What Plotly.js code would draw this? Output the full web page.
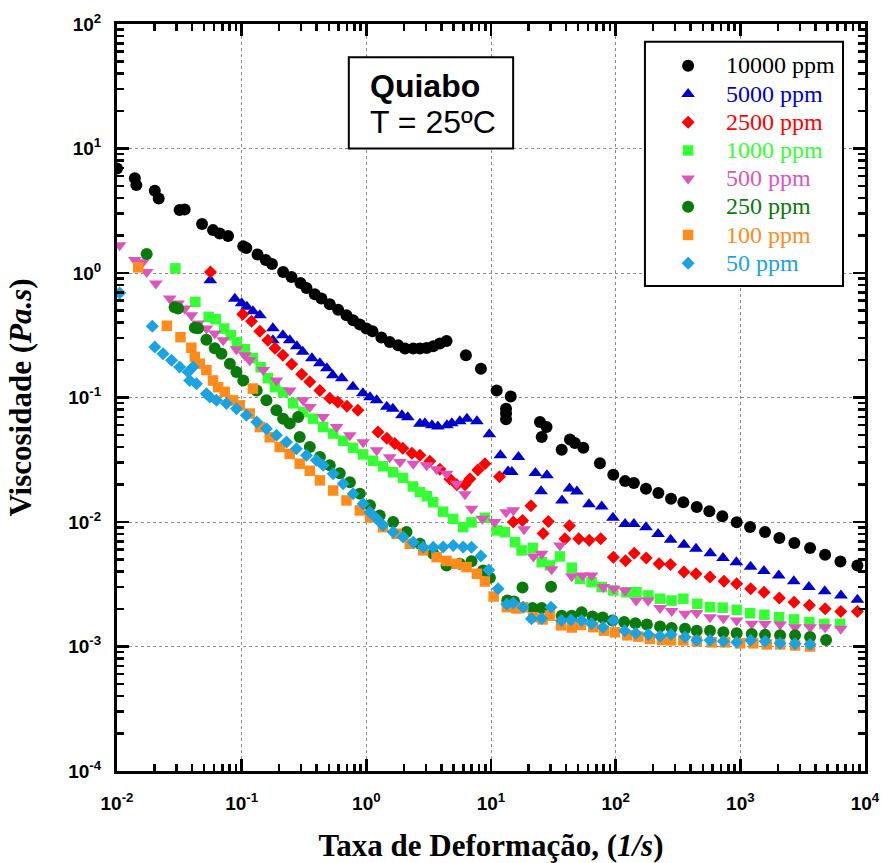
<!DOCTYPE html>
<html>
<head>
<meta charset="utf-8">
<script src="https://cdn.plot.ly/plotly-3.0.1.min.js"></script>
<style>html,body{margin:0;padding:0;background:#fff;}#chart{width:882px;height:863px;}</style>
</head>
<body>
<div id="chart"></div>
<script>
// ---- Data (shear rate in 1/s, viscosity in Pa.s) ----
const seriesNames = ["10000 ppm", "5000 ppm", "2500 ppm", "1000 ppm", "500 ppm", "250 ppm", "100 ppm", "50 ppm"];
const seriesColors = ["#000000", "#0000cc", "#ff0000", "#33ff33", "#dd55bb", "#0a7a0a", "#ff8c1a", "#1aa3e0"];
const seriesSymbols = ["circle", "triangle-up", "diamond", "square", "triangle-down", "circle", "square", "diamond"];

const x10000 = [0.01, 0.0139, 0.0143, 0.0201, 0.0216, 0.0318, 0.0349, 0.0481, 0.0589, 0.0667, 0.0778, 0.103, 0.109, 0.134, 0.156, 0.175, 0.215, 0.251, 0.296, 0.331, 0.386, 0.436, 0.509, 0.594, 0.693, 0.783, 0.887, 1.00, 1.12, 1.32, 1.54, 1.80, 2.04, 2.38, 2.69, 3.04, 3.44, 3.89, 4.40, 6.29, 8.30, 11.1, 14.4, 13.2, 13.2, 13.2, 24.7, 27.9, 25.5, 36.9, 43.0, 47.1, 55.0, 74.8, 95.7, 119, 140, 175, 220, 278, 349, 447, 564, 717, 935, 1197, 1578, 2056, 2712, 3625, 4786, 6350, 8690];
const y10000 = [6.92, 5.78, 5.08, 4.57, 3.97, 3.20, 3.24, 2.47, 2.21, 2.08, 1.98, 1.64, 1.59, 1.41, 1.27, 1.18, 1.02, 0.93, 0.83, 0.759, 0.676, 0.624, 0.561, 0.507, 0.458, 0.418, 0.385, 0.358, 0.340, 0.303, 0.279, 0.263, 0.247, 0.247, 0.247, 0.250, 0.258, 0.271, 0.284, 0.218, 0.170, 0.114, 0.102, 0.0814, 0.0743, 0.0668, 0.0635, 0.0579, 0.0481, 0.0381, 0.0459, 0.0431, 0.0395, 0.0297, 0.0240, 0.0213, 0.0206, 0.0185, 0.0171, 0.0154, 0.0144, 0.0132, 0.0122, 0.0111, 0.00997, 0.0091, 0.0083, 0.00743, 0.00677, 0.00617, 0.00546, 0.00482, 0.00448];

const x5000 = [0.0560, 0.0881, 0.100, 0.110, 0.123, 0.140, 0.178, 0.178, 0.214, 0.243, 0.277, 0.309, 0.366, 0.424, 0.482, 0.538, 0.635, 0.780, 0.938, 1.07, 1.21, 1.46, 1.63, 1.93, 2.15, 2.69, 2.95, 3.36, 3.75, 4.43, 4.85, 5.62, 6.41, 7.71, 9.70, 11.9, 16.6, 13.7, 14.7, 22.7, 28.1, 25.2, 37.1, 42.6, 48.9, 61.1, 77.3, 95.1, 119, 140, 175, 219, 276, 353, 441, 574, 726, 929, 1208, 1545, 2033, 2684, 3548, 4754, 6412, 8690];
const y5000 = [0.875, 0.621, 0.572, 0.536, 0.493, 0.458, 0.360, 0.288, 0.316, 0.288, 0.258, 0.233, 0.207, 0.188, 0.172, 0.151, 0.143, 0.122, 0.108, 0.1005, 0.0949, 0.0842, 0.0811, 0.0719, 0.0693, 0.0615, 0.0621, 0.0598, 0.0586, 0.0598, 0.0621, 0.0644, 0.0675, 0.0644, 0.0506, 0.0343, 0.0333, 0.0255, 0.0252, 0.0247, 0.0237, 0.0177, 0.0149, 0.0186, 0.0176, 0.0139, 0.0133, 0.0108, 0.00962, 0.00965, 0.00906, 0.00800, 0.00721, 0.00657, 0.00610, 0.00560, 0.00514, 0.00476, 0.00437, 0.00404, 0.00372, 0.00335, 0.00300, 0.00278, 0.00257, 0.00237];

const x2500 = [0.0562, 0.102, 0.120, 0.140, 0.162, 0.185, 0.214, 0.252, 0.303, 0.352, 0.424, 0.509, 0.590, 0.698, 0.855, 1.24, 1.46, 1.69, 1.96, 2.32, 2.69, 3.23, 3.89, 4.68, 5.32, 6.18, 6.78, 7.85, 8.93, 11.7, 15.1, 17.9, 20.9, 26.2, 28.8, 39.2, 42.6, 50.6, 61.4, 75.8, 95.7, 120, 141, 176, 223, 275, 353, 441, 571, 740, 935, 1211, 1549, 2056, 2698, 3581, 4786, 6397, 8690];
const y2500 = [1.02, 0.467, 0.410, 0.340, 0.288, 0.249, 0.218, 0.185, 0.154, 0.134, 0.114, 0.0985, 0.0920, 0.0849, 0.0789, 0.0528, 0.0470, 0.0428, 0.0391, 0.0356, 0.0343, 0.0307, 0.0265, 0.0222, 0.0199, 0.0199, 0.0223, 0.0262, 0.0294, 0.0231, 0.00998, 0.0103, 0.0135, 0.00809, 0.0101, 0.00734, 0.00931, 0.00734, 0.00715, 0.00734, 0.00522, 0.00489, 0.00560, 0.00514, 0.00462, 0.00456, 0.00396, 0.00384, 0.00361, 0.00335, 0.00319, 0.00291, 0.00273, 0.00245, 0.00227, 0.00214, 0.00201, 0.00191, 0.00191];

const x1000 = [0.0294, 0.0425, 0.0544, 0.0619, 0.0724, 0.0818, 0.0914, 0.106, 0.123, 0.142, 0.162, 0.185, 0.215, 0.259, 0.311, 0.374, 0.450, 0.542, 0.652, 0.783, 0.942, 1.13, 1.36, 1.64, 1.97, 2.36, 2.69, 3.06, 3.44, 4.13, 4.98, 5.98, 6.98, 8.93, 11.1, 12.9, 15.6, 17.6, 21.6, 25.5, 29.7, 35.7, 44.4, 51.7, 64.1, 77.3, 95.7, 122, 147, 183, 227, 281, 349, 452, 571, 722, 935, 1197, 1560, 2046, 2698, 3581, 4721, 6310];
const y1000 = [1.09, 0.586, 0.444, 0.425, 0.358, 0.316, 0.278, 0.244, 0.207, 0.175, 0.143, 0.121, 0.110, 0.0898, 0.0764, 0.0676, 0.0579, 0.0513, 0.0449, 0.0394, 0.0349, 0.0310, 0.0280, 0.0251, 0.0226, 0.0193, 0.0174, 0.0161, 0.0144, 0.0121, 0.0106, 0.0091, 0.00993, 0.0108, 0.00855, 0.00830, 0.00689, 0.00591, 0.00619, 0.00476, 0.00448, 0.00529, 0.00429, 0.00350, 0.00329, 0.00300, 0.00282, 0.00273, 0.00273, 0.00257, 0.00242, 0.00234, 0.00242, 0.00220, 0.00207, 0.00205, 0.00197, 0.00185, 0.00180, 0.00172, 0.00165, 0.00157, 0.00152, 0.00152];

const x500 = [0.0105, 0.0139, 0.0161, 0.0173, 0.0205, 0.0265, 0.0309, 0.0349, 0.0395, 0.0447, 0.0521, 0.0608, 0.0710, 0.0908, 0.106, 0.116, 0.149, 0.190, 0.243, 0.311, 0.352, 0.450, 0.577, 0.738, 0.942, 1.21, 1.54, 1.86, 2.38, 3.04, 3.66, 4.40, 5.30, 6.18, 6.98, 8.53, 10.7, 13.2, 15.1, 18.4, 21.9, 25.5, 30.6, 35.7, 44.4, 54.2, 64.1, 79.6, 96.9, 119, 146, 182, 227, 281, 360, 447, 571, 731, 935, 1234, 1578, 2084, 2748, 3625, 4786, 6397];
const y500 = [1.67, 1.27, 1.22, 1.02, 0.824, 0.624, 0.569, 0.519, 0.458, 0.393, 0.358, 0.327, 0.288, 0.244, 0.218, 0.199, 0.166, 0.137, 0.114, 0.0949, 0.0839, 0.0697, 0.0579, 0.0497, 0.0437, 0.0377, 0.0331, 0.0303, 0.0294, 0.0285, 0.0265, 0.0244, 0.0203, 0.0167, 0.0128, 0.0106, 0.00998, 0.0120, 0.0124, 0.00873, 0.00529, 0.00556, 0.00418, 0.00649, 0.00366, 0.00372, 0.00372, 0.00300, 0.00291, 0.00282, 0.00234, 0.00234, 0.00204, 0.00193, 0.00183, 0.00186, 0.00172, 0.00169, 0.00162, 0.00152, 0.00152, 0.00150, 0.00143, 0.00143, 0.00143, 0.00139];

const x250 = [0.0173, 0.0290, 0.0309, 0.0421, 0.0447, 0.0521, 0.0608, 0.0689, 0.0804, 0.0908, 0.103, 0.132, 0.158, 0.190, 0.215, 0.284, 0.243, 0.292, 0.352, 0.424, 0.509, 0.612, 0.738, 0.887, 1.07, 1.28, 1.64, 2.10, 2.69, 3.44, 4.40, 5.62, 6.98, 8.66, 9.80, 13.5, 15.3, 17.9, 21.5, 25.5, 30.3, 36.9, 44.4, 53.3, 65.2, 78.7, 94.2, 117, 144, 178, 227, 281, 360, 447, 571, 731, 935, 1234, 1578, 2084, 2748, 3625, 4875];
const y250 = [1.42, 0.531, 0.519, 0.363, 0.360, 0.291, 0.249, 0.225, 0.187, 0.160, 0.137, 0.114, 0.0949, 0.0789, 0.0676, 0.0697, 0.0617, 0.0481, 0.0400, 0.0333, 0.0285, 0.0246, 0.0209, 0.0169, 0.0136, 0.0113, 0.00998, 0.00830, 0.00669, 0.00556, 0.00448, 0.00462, 0.00484, 0.00408, 0.00356, 0.00234, 0.00230, 0.00298, 0.00204, 0.00204, 0.00302, 0.00177, 0.00177, 0.00188, 0.00174, 0.00171, 0.00162, 0.00157, 0.00154, 0.00150, 0.00145, 0.00141, 0.00139, 0.00134, 0.00134, 0.00130, 0.00128, 0.00126, 0.00124, 0.00123, 0.00123, 0.00119, 0.00113];

const x100 = [0.0148, 0.0251, 0.0323, 0.0395, 0.0421, 0.0461, 0.0521, 0.0589, 0.0647, 0.0731, 0.0853, 0.0966, 0.123, 0.116, 0.140, 0.168, 0.202, 0.243, 0.292, 0.352, 0.424, 0.542, 0.693, 0.887, 1.07, 1.36, 1.75, 2.23, 2.86, 3.66, 4.40, 5.30, 6.37, 7.71, 8.93, 10.5, 13.4, 16.0, 18.1, 21.8, 25.9, 29.7, 36.4, 44.4, 52.7, 66.1, 80.5, 98.6, 124, 152, 188, 235, 278, 349, 447, 589, 754, 995, 1271, 1629, 2084, 2748, 3625];
const y100 = [1.11, 0.377, 0.305, 0.251, 0.212, 0.187, 0.166, 0.137, 0.121, 0.111, 0.0949, 0.0865, 0.118, 0.0743, 0.0579, 0.0479, 0.0400, 0.0352, 0.0294, 0.0258, 0.0216, 0.0179, 0.0149, 0.0124, 0.0109, 0.00910, 0.00805, 0.00669, 0.00591, 0.00522, 0.00487, 0.00462, 0.00434, 0.00384, 0.00333, 0.00252, 0.00207, 0.00202, 0.00207, 0.00172, 0.00165, 0.00177, 0.00148, 0.00142, 0.00149, 0.00143, 0.00134, 0.00130, 0.00123, 0.00120, 0.00115, 0.00113, 0.00112, 0.00112, 0.00110, 0.00108, 0.00108, 0.00106, 0.00106, 0.00104, 0.00104, 0.00102, 0.00100];

const x50 = [0.0105, 0.0192, 0.0201, 0.0234, 0.0274, 0.0318, 0.0372, 0.0407, 0.0383, 0.0434, 0.0521, 0.0555, 0.0628, 0.0755, 0.0908, 0.109, 0.132, 0.158, 0.190, 0.229, 0.275, 0.331, 0.398, 0.450, 0.542, 0.652, 0.783, 0.942, 1.07, 1.21, 1.36, 1.64, 1.97, 2.38, 2.86, 3.44, 4.13, 4.98, 5.98, 6.98, 8.30, 9.62, 11.4, 13.4, 15.1, 18.1, 21.1, 25.5, 30.3, 36.7, 43.8, 53.3, 64.1, 79.1, 95.7, 118, 145, 183, 227, 278, 360, 447, 571, 731, 935, 1211, 1578, 2084, 2748, 3625];
const y50 = [0.692, 0.373, 0.255, 0.225, 0.199, 0.176, 0.160, 0.176, 0.137, 0.129, 0.107, 0.101, 0.0949, 0.0893, 0.0814, 0.0719, 0.0635, 0.0562, 0.0497, 0.0439, 0.0388, 0.0343, 0.0313, 0.0285, 0.0244, 0.0203, 0.0169, 0.0140, 0.0120, 0.0106, 0.00940, 0.00830, 0.00757, 0.00689, 0.00628, 0.00628, 0.00631, 0.00649, 0.00631, 0.00628, 0.00533, 0.00412, 0.00291, 0.00218, 0.00224, 0.00207, 0.00167, 0.00168, 0.00207, 0.00162, 0.00163, 0.00162, 0.00152, 0.00143, 0.00162, 0.00134, 0.00128, 0.00125, 0.00121, 0.00125, 0.00119, 0.00112, 0.00112, 0.00110, 0.00108, 0.00112, 0.00110, 0.00106, 0.00105, 0.00104];

const xTickVals = [0.01, 0.1, 1, 10, 100, 1000, 10000];
const xTickText = ["10<sup>-2</sup>", "10<sup>-1</sup>", "10<sup>0</sup>", "10<sup>1</sup>", "10<sup>2</sup>", "10<sup>3</sup>", "10<sup>4</sup>"];
const yTickVals = [0.0001, 0.001, 0.01, 0.1, 1, 10, 100];
const yTickText = ["10<sup>-4</sup>", "10<sup>-3</sup>", "10<sup>-2</sup>", "10<sup>-1</sup>", "10<sup>0</sup>", "10<sup>1</sup>", "10<sup>2</sup>"];

const allX = [x10000, x5000, x2500, x1000, x500, x250, x100, x50];
const allY = [y10000, y5000, y2500, y1000, y500, y250, y100, y50];
const markerSizes = [12, 12, 10, 10.5, 12, 12, 10.5, 10];

const traces = seriesNames.map((name, i) => ({
  type: 'scatter',
  mode: 'markers',
  x: allX[i],
  y: allY[i],
  name: '<span style="font-size:24px;color:' + seriesColors[i] + '">' + name + '</span>',
  marker: { symbol: seriesSymbols[i], color: seriesColors[i], size: markerSizes[i], line: { width: 0 } }
}));

const axisCommon = {
  type: 'log',
  showline: true,
  linecolor: '#000',
  linewidth: 3,
  mirror: 'allticks',
  ticks: 'inside',
  ticklen: 12,
  tickwidth: 2.5,
  tickcolor: '#000',
  tickmode: 'array',
  showgrid: true,
  gridcolor: '#8a8a8a',
  gridwidth: 1,
  griddash: 'dot',
  zeroline: false,
  tickfont: { family: 'Liberation Sans, Arial, sans-serif', size: 19, color: '#000', weight: 'bold' },
  minor: { dtick: 'D1', ticks: 'inside', ticklen: 7, tickwidth: 2.5, tickcolor: '#000', showgrid: false }
};

const layout = {
  width: 882,
  height: 863,
  margin: { l: 117, r: 17, t: 24, b: 92 },
  paper_bgcolor: '#fff',
  plot_bgcolor: '#fff',
  showlegend: true,
  xaxis: Object.assign({}, axisCommon, {
    range: [-2, 4],
    tickvals: xTickVals,
    ticktext: xTickText,
    ticklabelstandoff: 13,
    title: { text: '<b>Taxa de Deformação, (<i>1/s</i>)</b>', font: { family: 'Liberation Serif, Times New Roman, serif', size: 31, color: '#000' }, standoff: 25 }
  }),
  yaxis: Object.assign({}, axisCommon, {
    range: [-4, 2],
    tickvals: yTickVals,
    ticktext: yTickText,
    ticklabelstandoff: 9,
    title: { text: '<b>Viscosidade (<i>Pa.s</i>)</b>', font: { family: 'Liberation Serif, Times New Roman, serif', size: 31, color: '#000' }, standoff: 28 }
  }),
  legend: {
    x: 0.7127, y: 0.9697, xanchor: 'left', yanchor: 'top',
    bgcolor: 'rgba(0,0,0,0)', borderwidth: 0,
    itemwidth: 66,
    font: { family: 'Liberation Serif, Times New Roman, serif', size: 19.4, color: '#000' }
  },
  shapes: [
    { type: 'rect', xref: 'paper', yref: 'paper', x0: 0.3099, x1: 0.5296, y0: 0.8335, y1: 0.9554, line: { color: '#000', width: 2 }, fillcolor: '#fff', layer: 'above' },
    { type: 'rect', xref: 'paper', yref: 'paper', x0: 0.7058, x1: 0.9706, y0: 0.6494, y1: 0.9763, line: { color: '#000', width: 2 }, fillcolor: '#fff', layer: 'above' }
  ],
  annotations: [
    { xref: 'paper', yref: 'paper', x: 0.336, y: 0.9176, xanchor: 'left', yanchor: 'middle', showarrow: false, text: '<b>Quiabo</b>', font: { family: 'Liberation Sans, Arial, sans-serif', size: 32, color: '#000' } },
    { xref: 'paper', yref: 'paper', x: 0.336, y: 0.8687, xanchor: 'left', yanchor: 'middle', showarrow: false, text: 'T = 25ºC', font: { family: 'Liberation Sans, Arial, sans-serif', size: 32, color: '#000' } }
  ]
};

Plotly.newPlot('chart', traces, layout, { displayModeBar: false, staticPlot: true });
</script>
</body>
</html>
